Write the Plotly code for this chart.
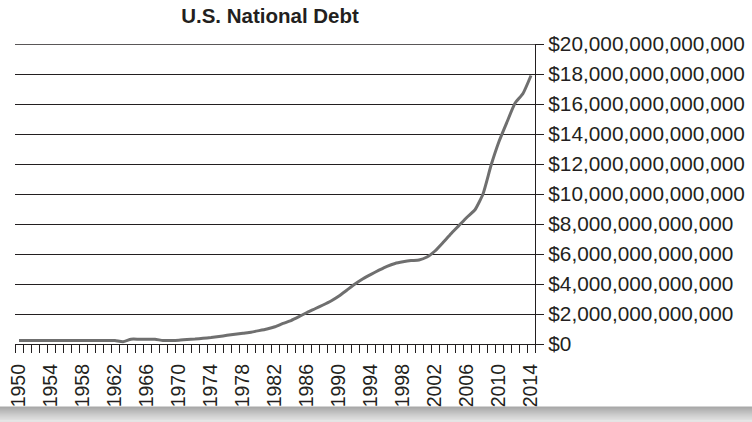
import plotly.graph_objects as go

# U.S. national debt, end of each year, in billions of dollars
years = list(range(1950, 2015))
debt_billions = [
    230, 230, 230, 230, 230, 230, 230, 230, 230, 230,   # 1950-1959
    230, 230, 230, 150, 320, 320, 320, 320, 230, 230,   # 1960-1969
    250, 300, 330, 380, 430, 500, 580, 650, 720, 790,   # 1970-1979
    890, 1000, 1150, 1370, 1560, 1820, 2100, 2350, 2600, 2870,  # 1980-1989
    3200, 3600, 4000, 4350, 4640, 4920, 5180, 5370, 5480, 5560,  # 1990-1999
    5600, 5800, 6200, 6760, 7350, 7900, 8450, 8950, 10000, 11900,  # 2000-2009
    13500, 14800, 16050, 16700, 17900,  # 2010-2014
]

label_years = list(range(1950, 2015, 4))
y_ticks = list(range(0, 20_000_000_000_001, 2_000_000_000_000))
y_tick_text = ["${:,}".format(v) for v in y_ticks]

FONT = "Liberation Sans, Arial, Helvetica, sans-serif"
INK = "#231f20"

debt = [v * 1e9 for v in debt_billions]

fig = go.Figure()
fig.add_trace(go.Scatter(
    x=years, y=debt, mode="lines",
    line=dict(color="#6f6f6f", width=3, shape="spline", smoothing=0.5),
    hoverinfo="x+y", showlegend=False,
))

fig.update_layout(
    width=752, height=422,
    margin=dict(l=7, r=217, t=44, b=77.5),
    paper_bgcolor="white", plot_bgcolor="white",
    font=dict(family=FONT, size=19, color=INK),
    title=dict(text="<b>U.S. National Debt</b>", font=dict(size=20.5, color=INK),
               x=270 / 752, xref="container", xanchor="center",
               y=1 - 16 / 422, yref="container", yanchor="middle"),
    xaxis=dict(
        range=[1949.5, 2014.5], tickmode="array",
        tickvals=label_years, ticktext=[str(y) for y in label_years],
        tickangle=-90, ticks="", showgrid=False, zeroline=False,
        showline=True, linecolor=INK, linewidth=1.3,
        ticklabelstandoff=11, ticklabeloverflow="allow",
        tickfont=dict(size=19.5, color=INK),
        minor=dict(tickmode="array",
                   tickvals=[y - 0.5 for y in years] + [2014.5],
                   ticks="outside", ticklen=8, tickwidth=1.2, tickcolor=INK,
                   showgrid=False),
    ),
    yaxis=dict(
        range=[0, 20e12], side="right", tickmode="array",
        tickvals=y_ticks, ticktext=y_tick_text,
        ticks="outside", ticklen=8,
        tickwidth=1.3, tickcolor=INK, showgrid=True, gridcolor=INK,
        gridwidth=1.3, zeroline=False, showline=True, linecolor=INK,
        linewidth=1.3, tickfont=dict(size=20.8, color=INK),
    ),
)

# Top gridline at $20 trillion, drawn across the full plot width
fig.add_shape(type="line", xref="paper", yref="y", x0=0, x1=1,
              y0=y_ticks[-1], y1=y_ticks[-1], line=dict(color=INK, width=1.3))

# Gray band along the bottom edge, shaded from dark to light
band_top, band_bottom = 407, 423
shades = ["#a9a9a9", "#b3b3b3", "#bdbdbd", "#c6c6c6", "#cfcfcf", "#d7d7d7", "#dedede", "#e4e4e4"]
step = (band_bottom - band_top) / len(shades)
def px_to_paper_y(py):
    return (344.5 - py) / 300.5
def px_to_paper_x(px):
    return (px - 7) / 528
for i, c in enumerate(shades):
    y0 = band_top + i * step
    fig.add_shape(type="rect", xref="paper", yref="paper",
                  x0=px_to_paper_x(-10), x1=px_to_paper_x(770),
                  y0=px_to_paper_y(y0 + step + 0.5), y1=px_to_paper_y(y0),
                  line=dict(width=0), fillcolor=c, layer="below")

fig.write_html("out.html")
